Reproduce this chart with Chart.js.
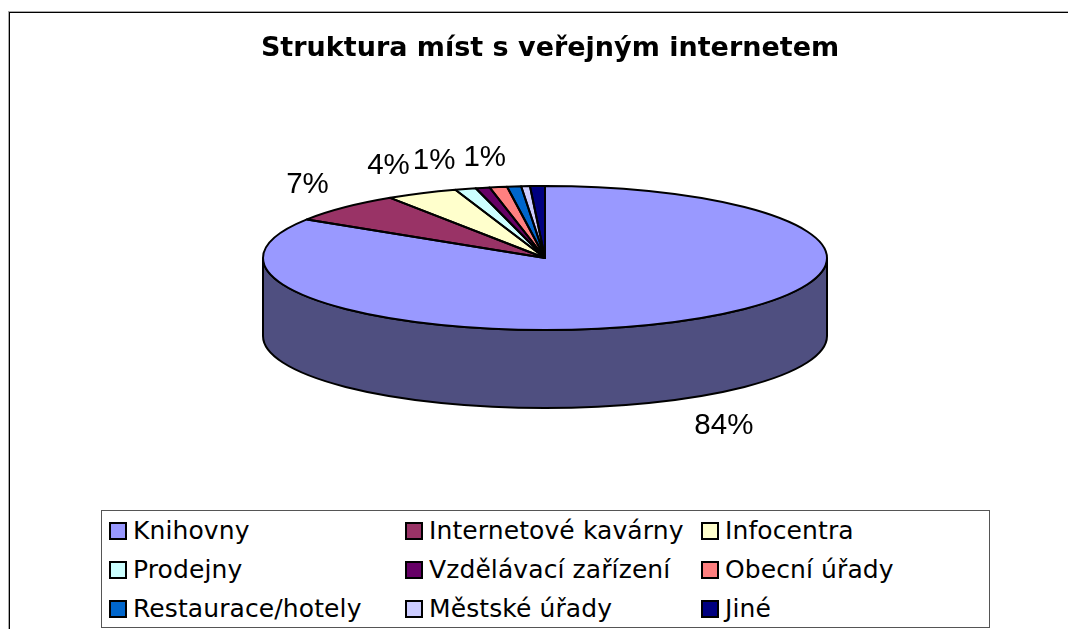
<!DOCTYPE html>
<html lang="cs">
<head>
<meta charset="utf-8">
<title>Struktura míst s veřejným internetem</title>
<script src="https://cdn.jsdelivr.net/npm/chart.js@4"></script>
<style>
  html, body { margin: 0; width: 1068px; height: 629px; overflow: hidden; background: #fff; }
  #frame {
    position: absolute; left: 9px; top: 12px; width: 1078px; height: 640px;
    border: 1px solid #000; box-shadow: -1px -1px 0 #aaa;
  }
  #pieChart { display: block; }
  #legend {
    position: absolute; left: 101px; top: 510px; width: 887px; height: 116px;
    border: 1px solid #555; background: #fff; box-sizing: content-box;
    display: grid; grid-template-columns: 296px 296px 295px; grid-auto-rows: 39px;
    font: 25px "DejaVu Sans", sans-serif; letter-spacing: 0.1px; color: #000;
  }
  .item { display: flex; align-items: center; padding-left: 7px; white-space: nowrap; }
  .swatch { width: 18px; height: 18px; box-sizing: border-box; border: 2px solid #000; margin-right: 6px; flex: none; }
</style>
</head>
<body>
<div id="frame"><canvas id="pieChart" width="1078" height="616"></canvas></div>
<div id="legend"></div>
<script>
const categories = ['Knihovny', 'Internetové kavárny', 'Infocentra', 'Prodejny', 'Vzdělávací zařízení', 'Obecní úřady', 'Restaurace/hotely', 'Městské úřady', 'Jiné'];
const shares = [84, 6.75, 4.1, 1.2, 0.8, 1, 0.8, 0.5, 0.85];
const sliceLabels = ['84%', '7%', '4%', '1%', '', '', '1%', '', ''];
const sliceColors = ['#9999ff', '#993366', '#ffffcc', '#ccffff', '#660066', '#ff8080', '#0066cc', '#ccccff', '#000080'];
const sideColors = ['#4f4f80', '#4d1a33', '#808066', '#668080', '#330033', '#804040', '#003366', '#666680', '#000040'];

const depth = 78;

// legend has three fixed columns, the built in one can't line them up
const legend = document.getElementById('legend');
categories.forEach((name, i) => {
  const item = document.createElement('div');
  item.className = 'item';
  const swatch = document.createElement('span');
  swatch.className = 'swatch';
  swatch.style.background = sliceColors[i];
  item.appendChild(swatch);
  item.appendChild(document.createTextNode(name));
  legend.appendChild(item);
});

// squash the round pie into the chart area and add the wall and the labels
const pie3d = {
  id: 'pie3d',
  afterLayout(chart) {
    // title is wider than the padded area and sits a bit right of the pie
    chart.titleBlock.left -= 50;
    chart.titleBlock.right += 60;
  },
  beforeDatasetsDraw(chart) {
    const { ctx, chartArea } = chart;
    const arcs = chart.getDatasetMeta(0).data;
    const rx = chartArea.width / 2;
    const ry = chartArea.height / 2;
    const cx = arcs[0].x;
    const cy = arcs[0].y;

    ctx.save();
    ctx.strokeStyle = '#000';
    ctx.lineWidth = 2;
    arcs.forEach((arc, i) => {
      const from = Math.max(arc.startAngle, 0);
      const to = Math.min(arc.endAngle, Math.PI);
      if (from >= to) return;
      ctx.beginPath();
      ctx.ellipse(cx, cy, rx, ry, 0, from, to);
      ctx.ellipse(cx, cy + depth, rx, ry, 0, to, from, true);
      ctx.closePath();
      ctx.fillStyle = sideColors[i];
      ctx.fill();
      ctx.stroke();
    });
    ctx.restore();

    ctx.save();
    ctx.translate(cx, cy);
    ctx.scale(rx / arcs[0].outerRadius, ry / arcs[0].outerRadius);
    ctx.translate(-cx, -cy);
  },
  afterDatasetsDraw(chart) {
    const { ctx, chartArea } = chart;
    ctx.restore();

    const arcs = chart.getDatasetMeta(0).data;
    const rx = chartArea.width / 2;
    const ry = chartArea.height / 2;

    ctx.save();
    ctx.strokeStyle = '#000';
    ctx.lineWidth = 2;
    ctx.lineJoin = 'round';
    arcs.forEach(arc => {
      ctx.beginPath();
      ctx.moveTo(arc.x, arc.y);
      ctx.ellipse(arc.x, arc.y, rx, ry, 0, arc.startAngle, arc.endAngle);
      ctx.closePath();
      ctx.stroke();
    });

    ctx.fillStyle = '#000';
    ctx.font = '29.5px "Liberation Sans", Arial, sans-serif';
    ctx.textAlign = 'center';
    ctx.textBaseline = 'middle';
    arcs.forEach((arc, i) => {
      if (!sliceLabels[i]) return;
      const mid = (arc.startAngle + arc.endAngle) / 2;
      const cos = Math.cos(mid);
      const sin = Math.sin(mid);
      const front = sin > 0;
      const x = arc.x + rx * cos + (front ? 43 : -28 + 12 * cos);
      const y = arc.y + ry * sin + (front ? depth + 27 : -9 + 20 * sin);
      ctx.fillText(sliceLabels[i], x, y);
    });
    ctx.restore();
  }
};

new Chart(document.getElementById('pieChart'), {
  type: 'pie',
  data: {
    labels: categories,
    datasets: [{
      data: shares,
      backgroundColor: sliceColors,
      borderWidth: 0,
      clip: false
    }]
  },
  options: {
    responsive: false,
    animation: false,
    events: [],
    layout: { padding: { left: 253, right: 261, top: 0, bottom: 299 } },
    plugins: {
      legend: { display: false },
      tooltip: { enabled: false },
      title: {
        display: true,
        text: 'Struktura míst s veřejným internetem',
        color: '#000',
        font: { family: '"DejaVu Sans"', size: 27, weight: 'bold' },
        padding: { top: 20, bottom: 120.6 }
      }
    }
  },
  plugins: [pie3d]
});
</script>
</body>
</html>
